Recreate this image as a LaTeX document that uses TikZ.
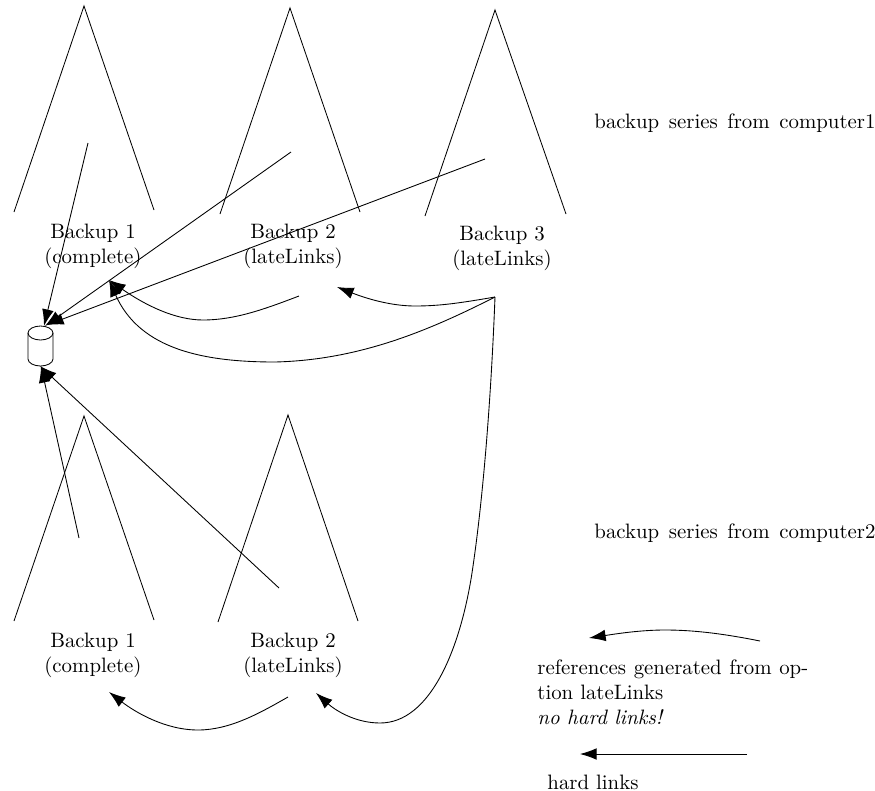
\documentclass[tikz,border=0pt]{standalone}
\usetikzlibrary{arrows.meta}
\tikzset{
  px/.style={x=0.48pt,y=-0.48pt},
  tree/.style={line width=0.4pt,line join=miter},
  ref/.style={line width=0.42pt,-{Latex[length=8pt,width=5.6pt]}},
  lbl/.style={align=center,inner sep=0pt,font=\rmfamily},
  note/.style={anchor=west,inner sep=0pt,align=left},
  store/.style={line width=0.4pt}
}
\begin{document}
\begin{tikzpicture}[px]
\useasboundingbox (0,0) rectangle (875,791);
% trees
\draw[tree] (14,212) -- (84,6) -- (154,210);
\draw[tree] (220,214) -- (290,8) -- (360,212);
\draw[tree] (425,216) -- (495,10) -- (566,214);
\draw[tree] (14,621) -- (84,416) -- (154,620);
\draw[tree] (218,622) -- (288,415) -- (358,621);
% labels
\node[lbl] (b1) at (93,246) {Backup 1\\(complete)};
\node[lbl] (b2) at (293,246) {Backup 2\\(lateLinks)};
\node[lbl] (b3) at (502,248) {Backup 3\\(lateLinks)};
\node[lbl] (c1) at (93,655) {Backup 1\\(complete)};
\node[lbl] (c2) at (293,655) {Backup 2\\(lateLinks)};
\node[note] (s1) at (594,123) {\makebox[134.9pt][s]{backup series from computer1}};
\node[note] (s2) at (594,533) {\makebox[134.9pt][s]{backup series from computer2}};
\node[note] (leg1) at (537,692) {\makebox[130pt][s]{references generated from op-}\\tion lateLinks\\\textit{no hard links!}};
\node[note] (leg2) at (547,782) {hard links};
% storage
\draw[store] (28,333) .. controls (28,329) and (34,326) .. (40.5,326) .. controls (47,326) and (53,329) .. (53,333)
  -- (53,359) .. controls (53,363) and (47,366) .. (40.5,366) .. controls (34,366) and (28,363) .. (28,359) -- cycle;
\draw[store] (28,333) .. controls (28,337) and (34,340) .. (40.5,340) .. controls (47,340) and (53,337) .. (53,333);
% connector ends
\coordinate (dbt1) at (44,326);
\coordinate (dbt2) at (45,326);
\coordinate (dbt3) at (47,325);
\coordinate (dbb1) at (41,366);
\coordinate (dbb2) at (40,366);
\coordinate (f1) at (88,143);
\coordinate (f2) at (291,152);
\coordinate (f3) at (485,159);
\coordinate (f4) at (79,538);
\coordinate (f5) at (279,588);
\coordinate (p1) at (299,296);
\coordinate (p2) at (495,297);
\coordinate (q1) at (109,280);
\coordinate (q2) at (337,287);
\coordinate (q3) at (316,693);
\coordinate (r1) at (288,697);
\coordinate (r2) at (109,692);
\coordinate (m1) at (760,641);
\coordinate (m2) at (589,638);
\coordinate (h1) at (747,754);
\coordinate (h2) at (580,754);
% hard links
\draw[ref] (f1) -- (dbt1);
\draw[ref] (f2) -- (dbt2);
\draw[ref] (f3) -- (dbt3);
\draw[ref] (f4) -- (dbb1);
\draw[ref] (f5) -- (dbb2);
\draw[ref] (h1) -- (h2);
% references
\draw[ref] (p1) .. controls (265,309) and (235,320) .. (203,320) .. controls (175,320) and (145,305) .. (q1);
\draw[ref] (p2) .. controls (430,330) and (360,360) .. (275,362) .. controls (205,362) and (140,350) .. (q1);
\draw[ref] (p2) .. controls (460,303) and (440,306) .. (415,306) .. controls (390,306) and (365,298) .. (q2);
\draw[ref] (p2) .. controls (491,400) and (483,500) .. (472,573) .. controls (460,650) and (430,723) .. (380,723) .. controls (355,723) and (335,710) .. (q3);
\draw[ref] (r1) .. controls (260,713) and (230,730) .. (198,730) .. controls (165,730) and (135,712) .. (r2);
\draw[ref] (m1) .. controls (725,634) and (695,630) .. (665,630) .. controls (640,630) and (615,634) .. (m2);
\end{tikzpicture}
\end{document}
